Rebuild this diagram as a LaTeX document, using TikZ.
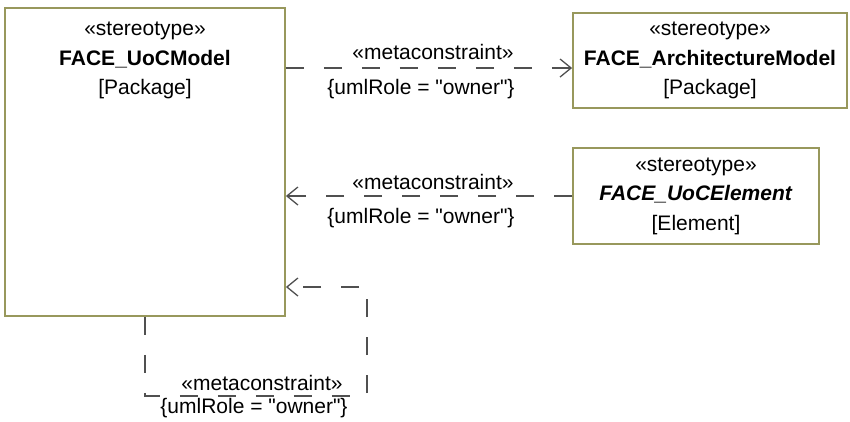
\documentclass[tikz,border=0pt]{standalone}
\usepackage{fontspec}
\setmainfont{Liberation Sans}[Ligatures=TeXOff]
\usetikzlibrary{arrows.meta}
\definecolor{boxline}{RGB}{152,152,92}
\definecolor{linkgray}{RGB}{80,80,80}
\begin{document}
\begin{tikzpicture}[x=1pt,y=-1pt,
every node/.style={font=\fontsize{21}{29.5}\selectfont, inner sep=0pt},
stereobox/.style={draw=boxline, line width=1.8pt, fill=white, align=center},
metalink/.style={draw=linkgray, line width=1.3pt, dash pattern=on 18pt off 20pt,
  -{Straight Barb[length=11pt,width=18pt]}},
tag/.style={text=black}
]
\useasboundingbox (0,0) rectangle (850,421);

\node[stereobox, minimum width=280pt, minimum height=308pt] (uoc) at (145,162) {};
\node[anchor=north, align=center] (uoctext) at (145,22)
  {«stereotype»\\\textbf{FACE\_UoCModel}\\{[Package]}};
\node[stereobox, minimum width=274pt, minimum height=95pt] (arch) at (710,60.5)
  {«stereotype»\\\textbf{FACE\_ArchitectureModel}\\{[Package]}};
\node[stereobox, minimum width=246pt, minimum height=96pt] (elem) at (696,196)
  {«stereotype»\\\textbf{\textit{FACE\_UoCElement}}\\{[Element]}};

\coordinate (archin) at ([yshift=-7.5pt]arch.west);
\coordinate (loopin) at ([yshift=-125pt]uoc.east);

\draw[metalink] (uoc.east |- archin) -- (archin);
\draw[metalink] (elem.west) -- (uoc.east |- elem.west);
\draw[metalink] (uoc.south) |- (367,396) |- (loopin);

\node[tag] (m1) at (433,52) {«metaconstraint»};
\node[tag] (r1) at (421,89) {\{umlRole = "owner"\}};
\node[tag] (m2) at (433,182) {«metaconstraint»};
\node[tag] (r2) at (421,218) {\{umlRole = "owner"\}};
\node[tag] (m3) at (262,383) {«metaconstraint»};
\node[tag] (r3) at (254,408) {\{umlRole = "owner"\}};
\end{tikzpicture}
\end{document}
